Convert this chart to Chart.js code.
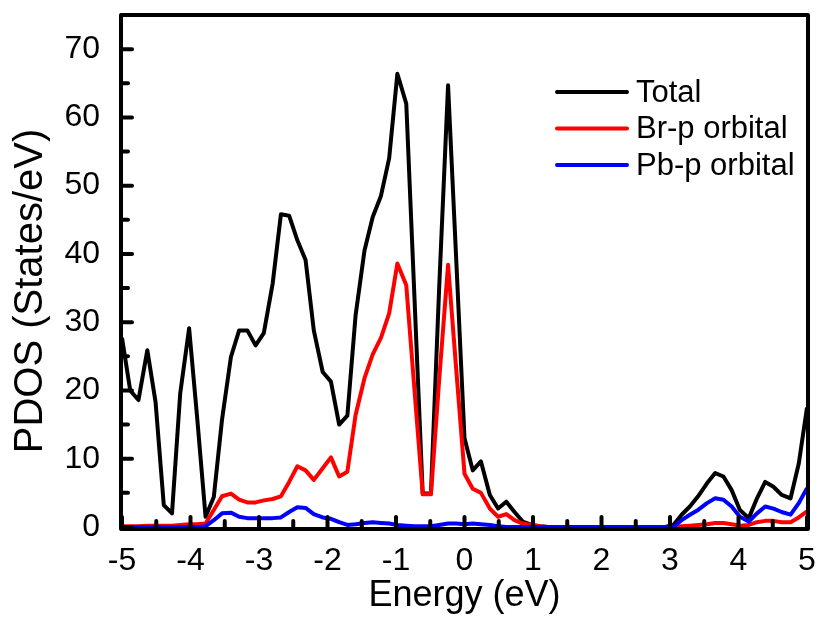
<!DOCTYPE html>
<html>
<head>
<meta charset="utf-8">
<title>PDOS</title>
<script src="https://cdn.jsdelivr.net/npm/chart.js@4.4.1/dist/chart.umd.min.js"></script>
<style>
  body { margin: 0; background: #fff; }
  #wrap { width: 824px; height: 623px; }
</style>
</head>
<body>
<div id="wrap"><canvas id="myChart" width="824" height="623"></canvas></div>
<script>
// energy grid (eV)
const energy = [
  -5.00, -4.88, -4.76, -4.63, -4.51, -4.39, -4.27, -4.15, -4.02, -3.90,
  -3.78, -3.66, -3.54, -3.41, -3.29, -3.17, -3.05, -2.93, -2.80, -2.68,
  -2.56, -2.44, -2.32, -2.20, -2.07, -1.95, -1.83, -1.71, -1.59, -1.46,
  -1.34, -1.22, -1.10, -0.98, -0.85, -0.73, -0.61, -0.49, -0.37, -0.24,
  -0.12, 0.00, 0.12, 0.24, 0.37, 0.49, 0.61, 0.73, 0.85, 0.98,
  1.10, 1.22, 1.34, 1.46, 1.59, 1.71, 1.83, 1.95, 2.07, 2.20,
  2.32, 2.44, 2.56, 2.68, 2.80, 2.93, 3.05, 3.17, 3.29, 3.41,
  3.54, 3.66, 3.78, 3.90, 4.02, 4.15, 4.27, 4.39, 4.51, 4.63,
  4.76, 4.88, 5.00
];

const total = [
  27.7, 20.0, 18.6, 25.9, 18.3, 3.2, 2.0, 19.6, 29.1, 15.7,
  1.5, 4.4, 15.7, 24.9, 28.8, 28.8, 26.6, 28.4, 35.7, 45.8,
  45.6, 42.0, 39.1, 28.8, 22.7, 21.3, 15.0, 16.3, 31.0, 40.5,
  45.4, 48.5, 54.0, 66.4, 62.0, 33.5, 4.9, 4.9, 35.0, 64.7,
  39.0, 13.0, 8.3, 9.6, 4.7, 2.7, 3.7, 2.2, 0.8, 0.3,
  0.1, 0, 0, 0, 0, 0, 0, 0, 0, 0,
  0, 0, 0, 0, 0, 0, 0.3, 1.8, 3.0, 4.5,
  6.4, 7.9, 7.4, 5.4, 2.5, 1.3, 4.2, 6.6, 5.9, 4.7,
  4.2, 9.3, 17.5
];

const brP = [
  0.1, 0.1, 0.1, 0.2, 0.2, 0.2, 0.2, 0.3, 0.4, 0.4,
  0.5, 2.5, 4.5, 4.9, 4.0, 3.6, 3.6, 3.9, 4.1, 4.5,
  6.6, 8.9, 8.3, 6.9, 8.6, 10.2, 7.4, 8.1, 16.4, 21.8,
  25.3, 27.7, 31.3, 38.6, 35.4, 20.0, 4.8, 4.8, 21.5, 38.4,
  23.0, 7.8, 5.6, 5.0, 2.7, 1.5, 1.9, 1.0, 0.5, 0.3,
  0.1, 0, 0, 0, 0, 0, 0, 0, 0, 0,
  0, 0, 0, 0, 0, 0, 0, 0.1, 0.2, 0.3,
  0.4, 0.6, 0.6, 0.4, 0.2, 0.3, 0.7, 0.9, 0.9, 0.7,
  0.7, 1.4, 2.3
];

const pbP = [
  0, 0, 0, 0, 0, 0, 0, 0, 0, 0,
  0.1, 1.0, 2.0, 2.1, 1.5, 1.3, 1.3, 1.3, 1.3, 1.4,
  2.2, 2.9, 2.8, 1.9, 1.4, 1.2, 0.7, 0.3, 0.4, 0.6,
  0.7, 0.6, 0.5, 0.3, 0.2, 0.1, 0.1, 0.1, 0.3, 0.5,
  0.5, 0.4, 0.5, 0.4, 0.3, 0.1, 0, 0, 0, 0,
  0, 0, 0, 0, 0, 0, 0, 0, 0, 0,
  0, 0, 0, 0, 0, 0, 0, 1.0, 1.8, 2.5,
  3.5, 4.2, 4.0, 3.0, 1.5, 0.8, 2.0, 3.0, 2.7, 2.2,
  1.8, 3.5, 5.7
];

const seriesNames = ["Total", "Br-p orbital", "Pb-p orbital"];
const seriesColors = ["#000000", "#ff0000", "#0000ff"];
const yTitle = "PDOS (States/eV)";

const FONT = 'Arial, "Liberation Sans", sans-serif';

function toPoints(ys) {
  return energy.map((e, i) => ({ x: e, y: ys[i] }));
}

// frame, inward ticks, y title and the legend box
const frameTicks = {
  id: "frameTicks",
  afterDraw(chart) {
    const ctx = chart.ctx;
    const a = chart.chartArea;
    const xs = chart.scales.x;
    const ys = chart.scales.y;
    ctx.save();
    ctx.strokeStyle = "#000";
    ctx.lineWidth = 4;
    ctx.lineCap = "round";
    // bottom ticks
    xs.ticks.forEach(t => {
      const px = xs.getPixelForValue(t.value);
      const major = Math.abs(t.value - Math.round(t.value)) < 1e-6;
      const len = major ? 10 : 6;
      ctx.beginPath();
      ctx.moveTo(px, a.bottom);
      ctx.lineTo(px, a.bottom - len);
      ctx.stroke();
    });
    // left ticks
    ys.ticks.forEach(t => {
      if (t.value > 70) return;
      const py = ys.getPixelForValue(t.value);
      const major = t.value % 10 === 0;
      const len = major ? 10 : 6;
      ctx.beginPath();
      ctx.moveTo(a.left, py);
      ctx.lineTo(a.left + len, py);
      ctx.stroke();
    });
    // frame
    ctx.lineCap = "butt";
    ctx.lineJoin = "round";
    ctx.strokeRect(a.left - 1, a.top, a.right - a.left + 2, a.bottom - a.top + 2);

    // y title, sits a bit below the middle of the axis
    ctx.save();
    ctx.translate(31, 291);
    ctx.rotate(-Math.PI / 2);
    ctx.font = "40px " + FONT;
    ctx.fillStyle = "#000";
    ctx.textAlign = "center";
    ctx.textBaseline = "middle";
    ctx.fillText(yTitle, 0, 0);
    ctx.restore();

    // legend
    ctx.font = "31px " + FONT;
    ctx.textBaseline = "middle";
    ctx.textAlign = "left";
    chart.data.datasets.forEach((ds, i) => {
      const y = 92 + i * 36.5;
      ctx.strokeStyle = ds.borderColor;
      ctx.lineWidth = 4;
      ctx.lineCap = "round";
      ctx.beginPath();
      ctx.moveTo(557, y);
      ctx.lineTo(627, y);
      ctx.stroke();
      ctx.fillStyle = "#000";
      ctx.fillText(ds.label, 636, y + 1);
    });
    ctx.restore();
  }
};

const ctx = document.getElementById("myChart").getContext("2d");
const pdosChart = new Chart(ctx, {
  type: "line",
  data: {
    datasets: [
      { label: seriesNames[0], data: toPoints(total), borderColor: seriesColors[0], order: 3 },
      { label: seriesNames[1], data: toPoints(brP), borderColor: seriesColors[1], order: 2 },
      { label: seriesNames[2], data: toPoints(pbP), borderColor: seriesColors[2], order: 1 }
    ]
  },
  options: {
    responsive: false,
    animation: false,
    events: [],
    elements: {
      line: { borderWidth: 4, tension: 0, fill: false, borderJoinStyle: "round" },
      point: { radius: 0 }
    },
    layout: { padding: { top: 15, right: 17, left: 0, bottom: 0 } },
    plugins: {
      legend: { display: false },
      tooltip: { enabled: false }
    },
    scales: {
      x: {
        type: "linear",
        min: -5,
        max: 5,
        grid: { display: false },
        border: { display: false },
        ticks: {
          stepSize: 0.5,
          autoSkip: false,
          maxRotation: 0,
          padding: 7,
          color: "#000",
          font: { family: FONT, size: 32 },
          callback: v => Number.isInteger(v) ? String(v) : ""
        },
        title: {
          display: true,
          text: "Energy (eV)",
          color: "#000",
          font: { family: FONT, size: 36 },
          padding: { top: 0, bottom: 5 }
        },
        afterFit: s => { s.height = 96; s.paddingLeft = 0; s.paddingRight = 0; }
      },
      y: {
        min: 0,
        max: 75,
        grid: { display: false },
        border: { display: false },
        ticks: {
          stepSize: 5,
          autoSkip: false,
          padding: 14,
          color: "#000",
          font: { family: FONT, size: 32 },
          callback: v => (v % 10 === 0 && v <= 70) ? String(v) : ""
        },
        title: { display: false },
        afterFit: s => { s.width = 122; s.paddingTop = 0; s.paddingBottom = 0; }
      }
    }
  },
  plugins: [frameTicks]
});
</script>
</body>
</html>
